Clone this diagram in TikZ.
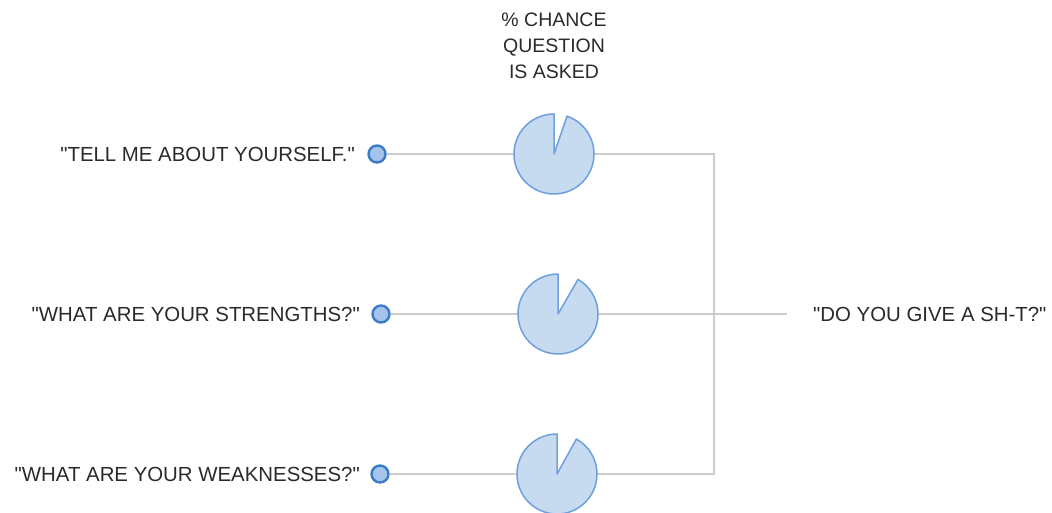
\documentclass[tikz,border=0pt]{standalone}
\usepackage{fontspec}
\setmainfont{Liberation Sans}
\definecolor{txt}{HTML}{2A2A2A}
\definecolor{conn}{HTML}{CCCCCC}
\definecolor{piefill}{HTML}{C6DAF0}
\definecolor{piedraw}{HTML}{6FA0DC}
\definecolor{dotfill}{HTML}{A6C3EC}
\definecolor{dotdraw}{HTML}{3A7CC9}
\newcommand{\sq}{\textquotedbl}
\begin{document}
\begin{tikzpicture}[x=1pt,y=1pt,
  lbl/.style={inner sep=0pt,text=txt,font=\fontsize{20.4}{26}\selectfont},
  dotnode/.style={circle,fill=dotfill,draw=dotdraw,line width=2.4pt,minimum size=17pt,inner sep=0pt},
  connline/.style={draw=conn,line width=1.5pt},
  pieshape/.style={fill=piefill,draw=piedraw,line width=1.5pt,line join=round}]
\useasboundingbox (0,0) rectangle (1052,512);
% title
\node[lbl,align=center,font=\fontsize{19.5}{26}\selectfont] (title) at (554,466) {\%~CHANCE\\QUESTION\\IS ASKED};
% labels
\node[lbl,anchor=east] (q1) at (355,358) {\sq TELL ME ABOUT YOURSELF.\sq};
\node[lbl,anchor=east] (q2) at (360,198) {\sq WHAT ARE YOUR STRENGTHS?\sq};
\node[lbl,anchor=east] (q3) at (360,38) {\sq WHAT ARE YOUR WEAKNESSES?\sq};
\node[lbl,anchor=west] (ans) at (813,198) {\sq DO YOU GIVE A SH-T?\sq};
% pie centres
\coordinate (p1) at (554,358);
\coordinate (p2) at (558,198);
\coordinate (p3) at (557,38);
\coordinate (j1) at (714,358);
\coordinate (j2) at (787,198);
% dots
\node[dotnode] (d1) at (377,358) {};
\node[dotnode] (d2) at (381,198) {};
\node[dotnode] (d3) at (380,38) {};
% connectors
\draw[connline] (d1.east) -- (j1) |- (d3.east);
\draw[connline] (d2.east) -- (j2);
% pies
\draw[pieshape] (p1) -- ++(90:40) arc[start angle=90,end angle=431,radius=40] -- cycle;
\draw[pieshape] (p2) -- ++(90:40) arc[start angle=90,end angle=420,radius=40] -- cycle;
\draw[pieshape] (p3) -- ++(90:40) arc[start angle=90,end angle=421,radius=40] -- cycle;
\end{tikzpicture}
\end{document}
